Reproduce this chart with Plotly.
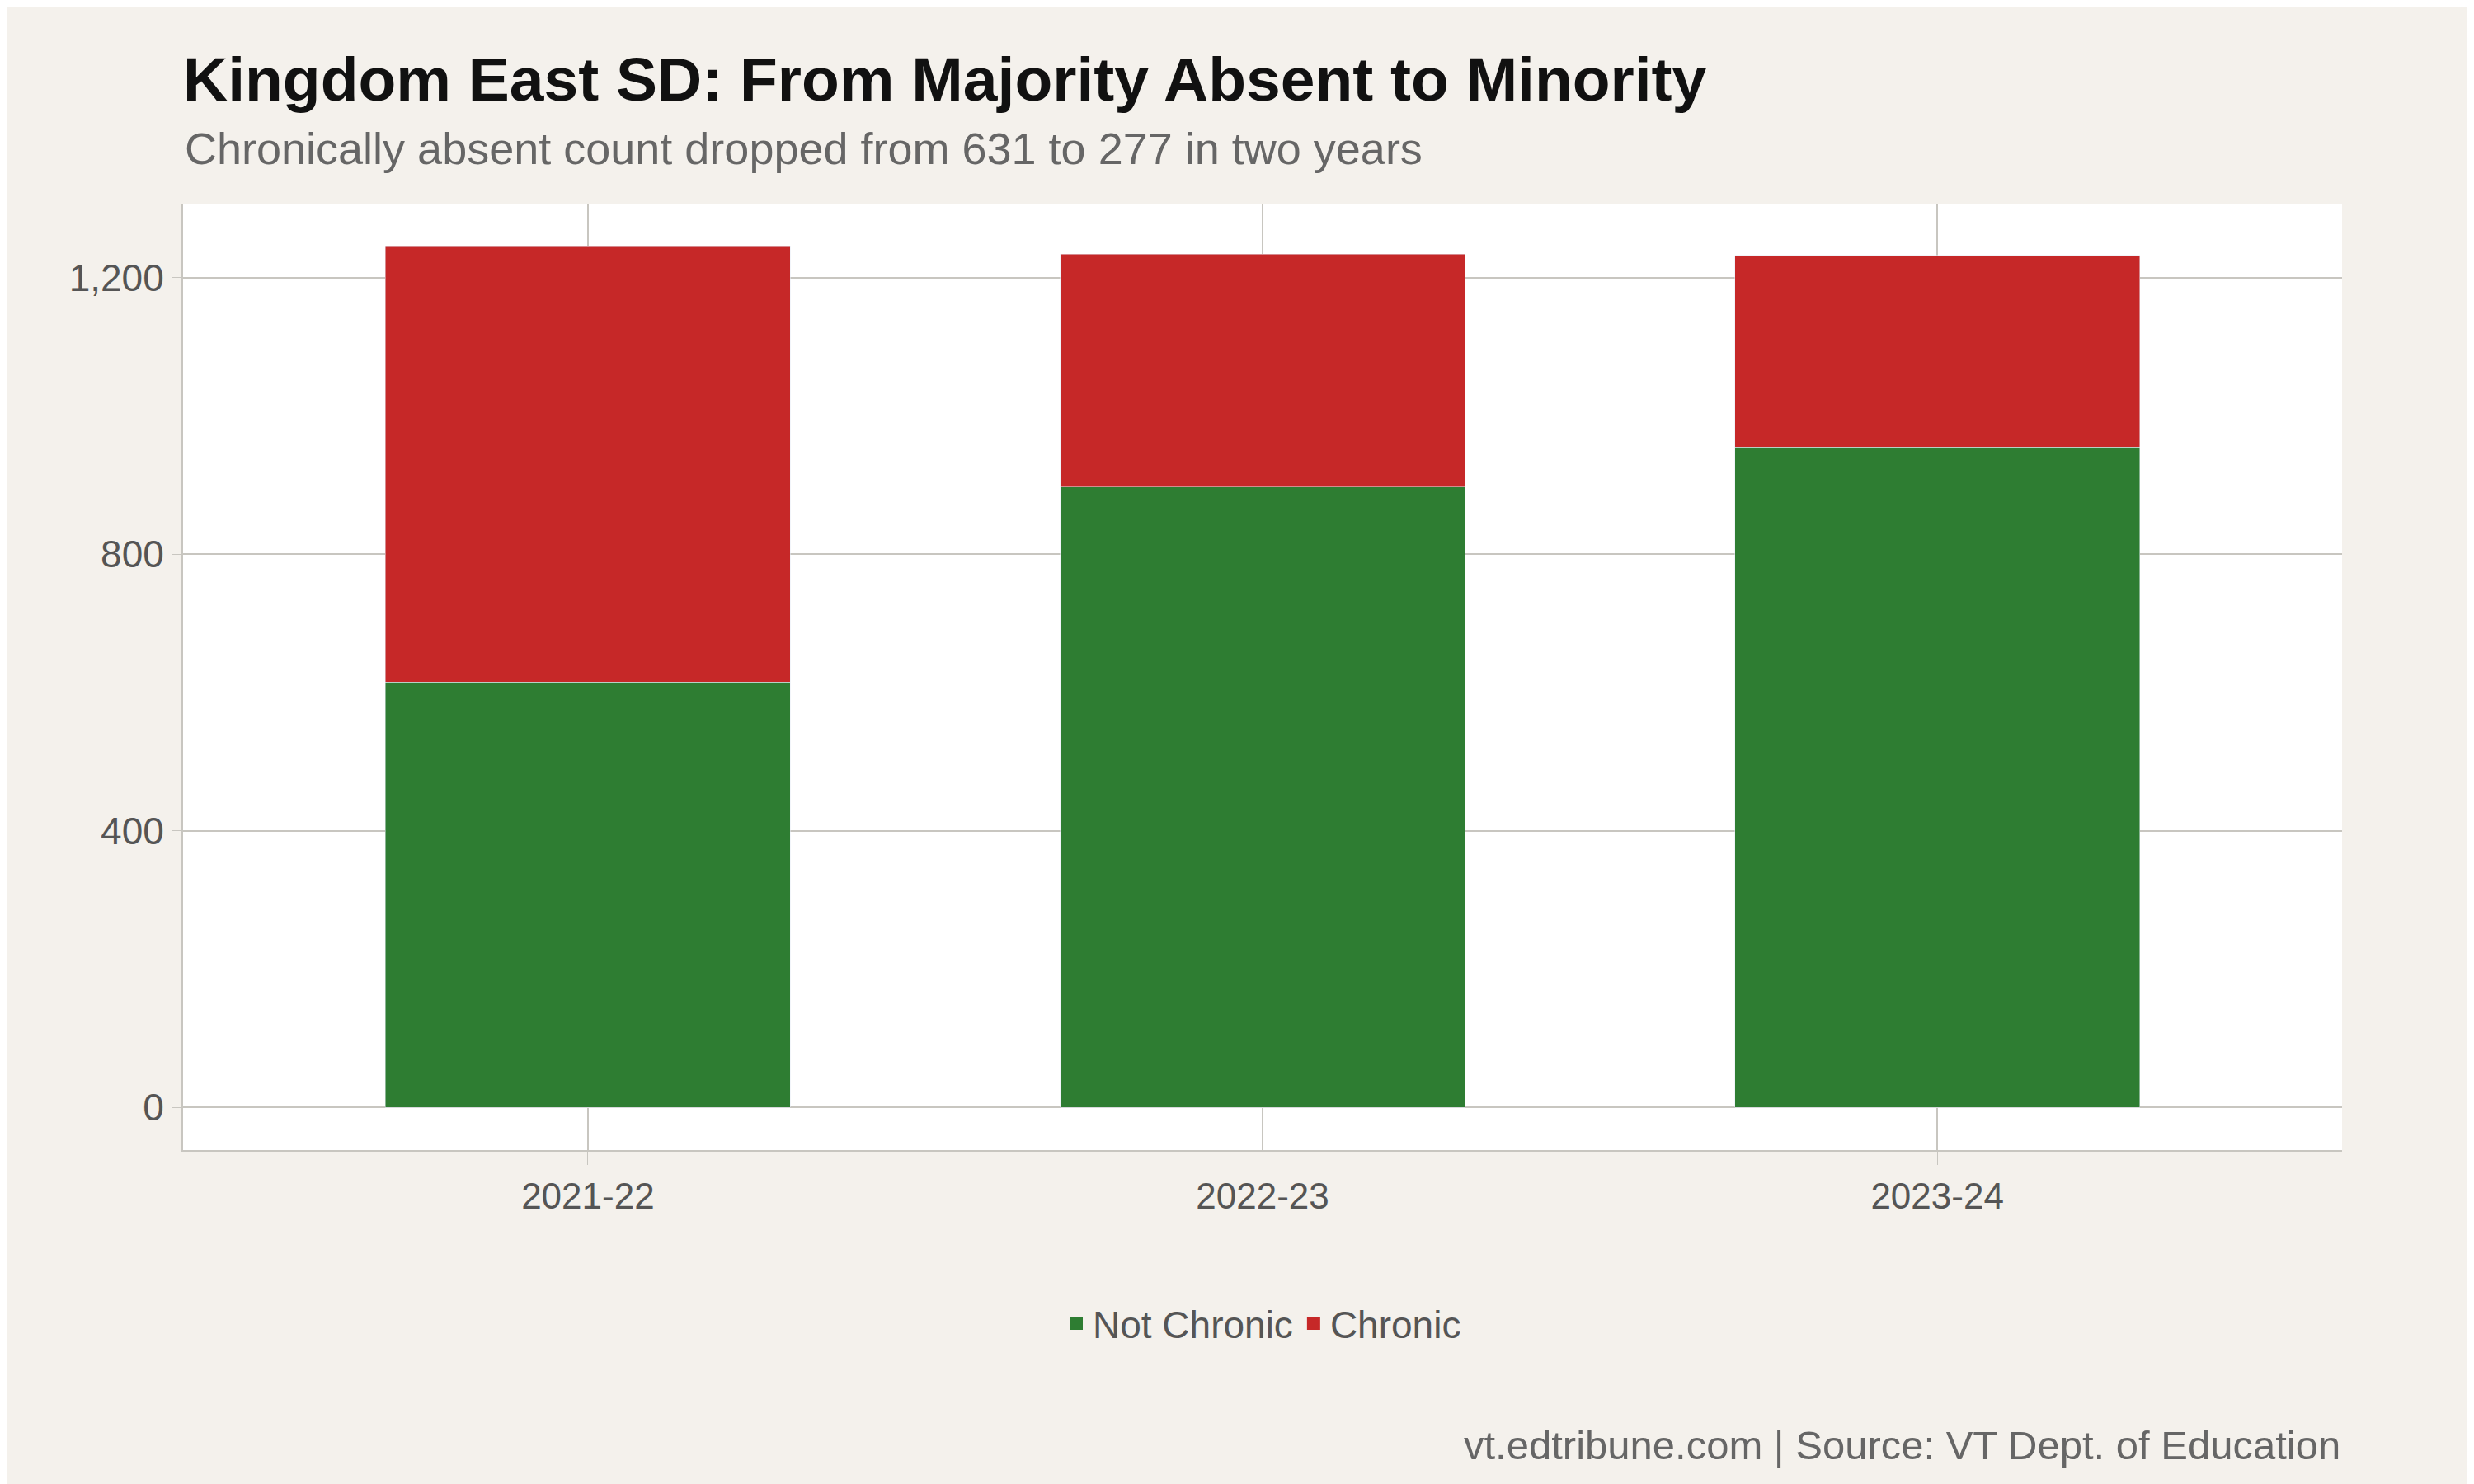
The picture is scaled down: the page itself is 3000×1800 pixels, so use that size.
import plotly.graph_objects as go

years = ["2021-22", "2022-23", "2023-24"]
not_chronic = [615, 897, 955]
chronic = [631, 337, 277]
y_ticks = [0, 400, 800, 1200]
y_tick_labels = ["0", "400", "800", "1,200"]

W, H = 3000, 1800
RED, GREEN = "#c62828", "#2e7d32"
fig = go.Figure()
fig.add_bar(x=years, y=not_chronic, name="Not Chronic", marker_color=GREEN, width=0.6, showlegend=False)
fig.add_bar(x=years, y=chronic, name="Chronic", marker_color=RED, width=0.6, showlegend=False)
# legend swatches
fig.add_scatter(x=[None], y=[None], mode="markers", name="Chronic",
                marker=dict(symbol="square", size=60, color=RED))
fig.add_scatter(x=[None], y=[None], mode="markers", name="Not Chronic",
                marker=dict(symbol="square", size=60, color=GREEN))

font = "Liberation Sans, Arial, sans-serif"
fig.update_layout(
    width=W, height=H, barmode="stack",
    paper_bgcolor="#f4f1ec", plot_bgcolor="#ffffff",
    font=dict(family=font, color="#555555", size=44),
    margin=dict(l=214, r=168, t=239, b=413),
    title=dict(text="<b>Kingdom East SD: From Majority Absent to Minority</b>",
               x=214/W, xanchor="left", y=1-88/H, yanchor="middle",
               font=dict(size=75, color="#111111", family=font)),
    legend=dict(orientation="h", x=0.5, xanchor="center", y=-(1597-1387)/(H-239-413),
                yanchor="middle", font=dict(size=46, color="#555555"),
                itemsizing="trace"),
    showlegend=True,
    xaxis=dict(range=[-0.6, 2.6], showgrid=True, gridcolor="#c8c6c0", gridwidth=2, showline=True,
               linecolor="#c8c6c0", linewidth=2, ticks="outside", tickcolor="#c8c6c0",
               ticklen=16, tickfont=dict(size=44, color="#555555")),
    yaxis=dict(range=[-62, 1307], tickvals=y_ticks, ticktext=y_tick_labels,
               showgrid=True, gridcolor="#c8c6c0", gridwidth=2, zeroline=False,
               showline=True, linecolor="#c8c6c0", linewidth=2, ticks="outside",
               tickcolor="#c8c6c0", ticklen=12, tickfont=dict(size=46, color="#555555")),
)
fig.add_annotation(text="Chronically absent count dropped from 631 to 277 in two years",
                   xref="paper", yref="paper", x=0, xanchor="left",
                   y=1 + (239 - 172) / (H - 239 - 413), yanchor="middle",
                   showarrow=False, font=dict(size=54, color="#666666", family=font))
fig.add_annotation(text="vt.edtribune.com | Source: VT Dept. of Education",
                   xref="paper", yref="paper", x=1, xanchor="right",
                   y=-(1745 - 1387) / (H - 239 - 413), yanchor="middle",
                   showarrow=False, font=dict(size=49, color="#666666", family=font))
fig.write_html("out.html")
